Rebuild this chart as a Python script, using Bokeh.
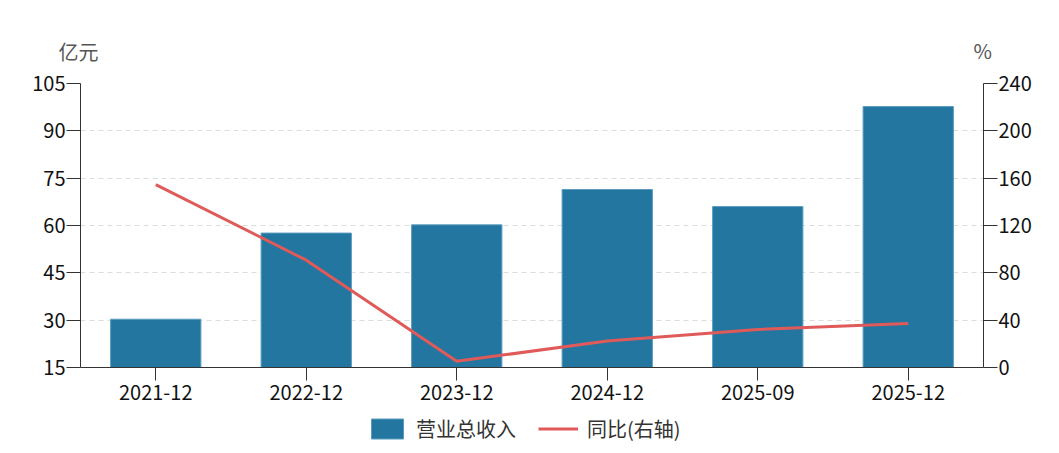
from bokeh.plotting import figure
from bokeh.layouts import column
from bokeh.models import (Range1d, LinearAxis, FixedTicker, Legend, LegendItem,
                          Label, ColumnDataSource)
from bokeh.embed import file_html
from bokeh.resources import INLINE

categories = ["2021-12", "2022-12", "2023-12", "2024-12", "2025-09", "2025-12"]
revenue = [30.3, 57.6, 60.2, 71.4, 66.0, 97.7]
yoy = [154.6, 90.7, 5.3, 22.3, 32.1, 37.2]
left_ticks = [15, 30, 45, 60, 75, 90, 105]
right_ticks = [0, 40, 80, 120, 160, 200, 240]
left_unit = "亿元"
right_unit = "%"
series_names = ["营业总收入", "同比(右轴)"]

FONT = "Noto Sans CJK SC"
BAR = "#23769f"
LINE = "#e05a5a"
AX = "#333333"
TICK_FS = "20px"
W = 1043


def blank_fig(h):
    f = figure(width=W, height=h, x_range=Range1d(0, W), y_range=Range1d(0, h),
               output_backend="svg", toolbar_location=None,
               x_axis_type=None, y_axis_type=None, frame_align=False,
               min_border=0, min_border_left=0, min_border_right=0,
               min_border_top=0, min_border_bottom=0)
    f.outline_line_color = None
    f.xgrid.visible = False
    f.ygrid.visible = False
    f.background_fill_color = "white"
    f.border_fill_color = "white"
    return f


# ---- unit captions strip
top = blank_fig(65)
top.add_layout(Label(x=58, y=14, text=left_unit, text_baseline="middle",
                     text_font=FONT, text_font_size="20px", text_color="#555555"))
top.add_layout(Label(x=973, y=15, text=right_unit, text_baseline="middle",
                     text_font=FONT, text_font_size="20px", text_color="#555555"))

# ---- main chart
src = ColumnDataSource(dict(cat=categories, rev=revenue, yoy=yoy))
p = figure(frame_width=903, frame_height=284, x_range=categories,
           y_range=Range1d(15, 105), frame_align=False,
           output_backend="svg", toolbar_location=None,
           min_border_left=80, min_border_right=60, min_border_top=18,
           min_border_bottom=45)
p.outline_line_color = None
p.background_fill_color = "white"
p.border_fill_color = "white"
p.extra_y_ranges = {"pct": Range1d(0, 240)}

p.vbar(x="cat", top="rev", bottom=15, width=0.6, source=src,
       fill_color=BAR, line_color="#5a9cc0", line_width=1)
p.line(x="cat", y="yoy", source=src, y_range_name="pct",
       line_color=LINE, line_width=3)


def style_axis(ax, standoff):
    ax.axis_line_color = AX
    ax.major_tick_line_color = AX
    ax.major_tick_out = 14
    ax.major_tick_in = 0
    ax.minor_tick_line_color = None
    ax.major_label_text_font = FONT
    ax.major_label_text_font_size = TICK_FS
    ax.major_label_text_color = "#111111"
    ax.major_label_standoff = standoff


ya = p.yaxis[0]
ya.ticker = FixedTicker(ticks=left_ticks)
style_axis(ya, 1)

ra = LinearAxis(y_range_name="pct", ticker=FixedTicker(ticks=right_ticks))
style_axis(ra, 1)
p.add_layout(ra, "right")

xa = p.xaxis[0]
style_axis(xa, 4)
xa.major_tick_out = 13

p.xgrid.grid_line_color = None
p.ygrid.grid_line_color = "#dcdcdc"
p.ygrid.grid_line_dash = "5 4"
p.ygrid.ticker = FixedTicker(ticks=left_ticks)

# ---- legend strip (off-screen carrier glyphs only supply the swatch styles)
bot = blank_fig(40)
lg_bar = bot.vbar(x=[-50], top=[-10], bottom=[-20], width=1,
                  fill_color=BAR, line_color="#5a9cc0")
lg_line = bot.line(x=[-60, -50], y=[-10, -10], line_color=LINE, line_width=3)
legend = Legend(items=[LegendItem(label=series_names[0], renderers=[lg_bar]),
                       LegendItem(label=series_names[1], renderers=[lg_line])],
                orientation="horizontal", location=(367, 9),
                label_text_font=FONT, label_text_font_size="20px",
                label_text_color="#333333", glyph_width=40, glyph_height=25,
                label_standoff=9, spacing=22, padding=0, margin=0,
                border_line_color=None, background_fill_alpha=0)
bot.add_layout(legend, "center")

layout = column(top, p, bot, spacing=0)
open("out.html", "w").write(file_html(layout, INLINE))
